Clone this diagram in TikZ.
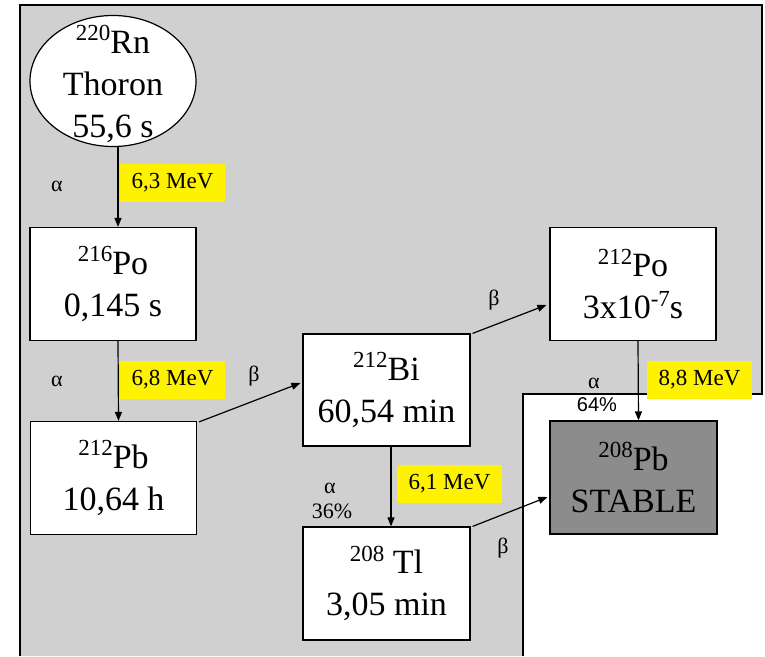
\documentclass[tikz,border=0pt]{standalone}
\usepackage{fontspec}
\setmainfont{Liberation Serif}
\newfontfamily\arialf{Liberation Sans}
\usetikzlibrary{shapes.geometric,arrows.meta}
\newcommand\isosup[1]{\raisebox{0.36em}{\fontsize{23}{23}\selectfont #1}}
\definecolor{bggray}{HTML}{D0D0D0}
\definecolor{stablegray}{HTML}{8C8C8C}
\begin{document}
\begin{tikzpicture}[x=1pt,y=-1pt,
  iso/.style={draw, fill=white, line width=1.2, minimum width=166, minimum height=113, inner sep=0, align=center, font=\fontsize{34}{42}\selectfont},
  energy/.style={fill=yellow, minimum width=105, minimum height=38, inner sep=0, font=\fontsize{23}{23}\selectfont},
  greek/.style={inner sep=0, font=\fontsize{22}{22}\selectfont},
  arr/.style={-{Triangle[length=9,width=7]}, line width=1.2}]
\useasboundingbox (0,0) rectangle (765,656);
% background region
\fill[bggray] (20,5) -- (762,5) -- (762,394) -- (523,394) -- (523,656) -- (20,656) -- cycle;
\draw[line width=1.4] (20,656) -- (20,5) -- (762,5) -- (762,394) -- (523,394) -- (523,656);
% nodes
\node[ellipse, draw, fill=white, line width=1.2, minimum width=166, minimum height=131, inner sep=0] (rn) at (113,81) {};
\node[align=center, inner sep=0, font=\fontsize{34}{42}\selectfont] (rntext) at (113,84) {\isosup{220}Rn\\Thoron\\55,6 s};
\node[iso] (po216) at (113,284) {\isosup{216}Po\\0,145 s};
\node[iso] (pb212) at (113.5,478) {\isosup{212}Pb\\10,64 h};
\node[iso, minimum width=167, minimum height=112] (bi212) at (386.5,390) {\isosup{212}Bi\\60,54 min};
\node[iso] (po212) at (633,284) {\isosup{212}Po\\3x10\isosup{-7}s};
\node[iso, fill=stablegray, minimum width=167] (pb208) at (633.5,477.5) {\isosup{208}Pb\\STABLE};
\node[iso, minimum width=167] (tl208) at (386.5,583.5) {\isosup{208} Tl\\3,05 min};
% arrows
\draw[arr] ([xshift=5]rn.south) -- ([xshift=5]po216.north);
\draw[arr] ([xshift=5]po216.south) -- ([xshift=5]pb212.north);
\draw[arr] ([xshift=2,yshift=-1]pb212.north east) -- ([xshift=-2,yshift=7]bi212.west);
\draw[arr] ([xshift=2]bi212.north east) -- ([xshift=-3,yshift=-21]po212.west);
\draw[arr] ([xshift=5]po212.south) -- ([xshift=5]pb208.north);
\draw[arr] ([xshift=4.5]bi212.south) -- ([xshift=4.5]tl208.north);
\draw[arr] ([xshift=2]tl208.north east) -- ([xshift=-2,yshift=-19.5]pb208.west);
% labels
\node[greek] (a1) at (57,186) {α};
\node[energy] (e1) at (172.5,183) {6,3 MeV};
\node[greek] (a2) at (57,381) {α};
\node[energy] (e2) at (172.5,380) {6,8 MeV};
\node[greek] (b1) at (254,376) {β};
\node[greek] (b2) at (494,300) {β};
\node[greek] (a3) at (594,383) {α};
\node[inner sep=0, font=\arialf\fontsize{20}{20}\selectfont] (p64) at (597,405) {64\%};
\node[energy] (e3) at (699.5,380) {8,8 MeV};
\node[greek] (a4) at (330,488) {α};
\node[inner sep=0, font=\fontsize{22}{22}\selectfont] (p36) at (332,511) {36\%};
\node[energy] (e4) at (449.5,484) {6,1 MeV};
\node[greek] (b3) at (503,548) {β};
\end{tikzpicture}
\end{document}
